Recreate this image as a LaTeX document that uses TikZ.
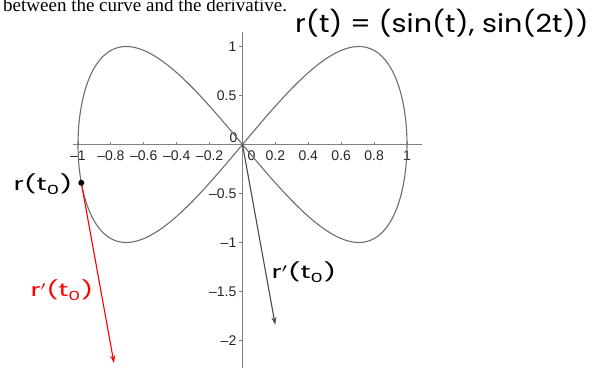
\documentclass[tikz,border=0pt]{standalone}
\usepackage{fontspec}
\setmainfont{Liberation Serif}
\newfontfamily\tickfont{Liberation Sans}
\newfontfamily\handfont{Poppins}
\usetikzlibrary{arrows.meta}
\definecolor{axisgray}{RGB}{128,128,128}
\definecolor{curvegray}{RGB}{110,110,110}
\newcommand{\handtext}[2]{\scalebox{#1}[1]{#2}}
\tikzset{
  axisline/.style={draw=axisgray, line width=1.1pt},
  curveline/.style={draw=curvegray, line width=1.1pt},
  ticklab/.style={font=\tickfont\fontsize{14pt}{16pt}\selectfont, inner sep=0pt, text=black!85},
  hand/.style={font=\handfont\fontsize{18pt}{20pt}\selectfont, inner sep=0pt},
  vecarrow/.style={line width=1.1pt, -{Stealth[length=8pt,width=5pt]}},
}
\begin{document}
\begin{tikzpicture}[x=164.5pt, y=98pt]
\useasboundingbox (-242.5pt,-223.5pt) rectangle (357.5pt,144.5pt);
% top text
\node[anchor=base west, inner sep=0pt, font=\fontsize{19pt}{21pt}\selectfont] (toptext) at (-239.5pt,133pt) {between the curve and the derivative.};
% axes
\coordinate (xl) at (-169.5pt,0);
\coordinate (xr) at (179.5pt,0);
\coordinate (yt) at (0,112.5pt);
\coordinate (yb) at (0,-223.5pt);
\draw[axisline] (xl) -- (xr);
\draw[axisline] (yb) -- (yt);
% ticks
\foreach \x in {-1,-0.8,-0.6,-0.4,-0.2,0.2,0.4,0.6,0.8,1}
  \draw[axisgray, line width=0.8pt] (\x,0) -- ++(0,3pt);
\foreach \y in {-2,-1.5,-1,-0.5,0.5,1}
  \draw[axisgray, line width=0.8pt] (0,\y) -- ++(-3pt,0);
% x tick labels
\foreach \x/\l in {-1/–1,-0.8/–0.8,-0.6/–0.6,-0.4/–0.4,-0.2/–0.2,0.2/0.2,0.4/0.4,0.6/0.6,0.8/0.8,1/1}
  \node[ticklab, anchor=north] at (\x,-6pt) {\l};
\node[ticklab, anchor=north] (x0) at (9pt,-6pt) {0};
% y tick labels
\foreach \y/\l in {1/1,0.5/0.5,-0.5/–0.5,-1/–1,-1.5/–1.5,-2/–2}
  \node[ticklab, anchor=east] at (-6pt,\y) {\l};
\node[ticklab, anchor=east] (y0) at (-5pt,7pt) {0};
% curve
\draw[curveline, samples=240, domain=0:6.2832, variable=\t] plot ({sin(\t r)},{sin(2*\t r)});
% vectors
\coordinate (O) at (0,0);
\coordinate (P) at (-0.980,-0.391);
\coordinate (Ptip) at (-0.781,-2.232);
\coordinate (Otip) at (0.199,-1.841);
\draw[vecarrow, draw=curvegray!70!black, fill=curvegray!70!black] (O) -- (Otip);
\draw[vecarrow, draw=red, fill=red] (P) -- (Ptip);
\fill (P) circle (3pt);
% handwritten labels
\node[hand, font=\handfont\fontsize{25pt}{28pt}\selectfont] (eq) at (199.5pt,121.5pt) {\handtext{1.15}{r(t) = (sin(t), sin(2t))}};
\node[hand] (lp) at (-199.5pt,-39.5pt) {\handtext{1.55}{r(t\textsubscript{0})}};
\node[hand, text=red] (ldr) at (-180.5pt,-145.5pt) {\handtext{1.5}{r$'$(t\textsubscript{0})}};
\node[hand] (ldb) at (61.5pt,-127.5pt) {\handtext{1.55}{r$'$(t\textsubscript{0})}};
\end{tikzpicture}
\end{document}
